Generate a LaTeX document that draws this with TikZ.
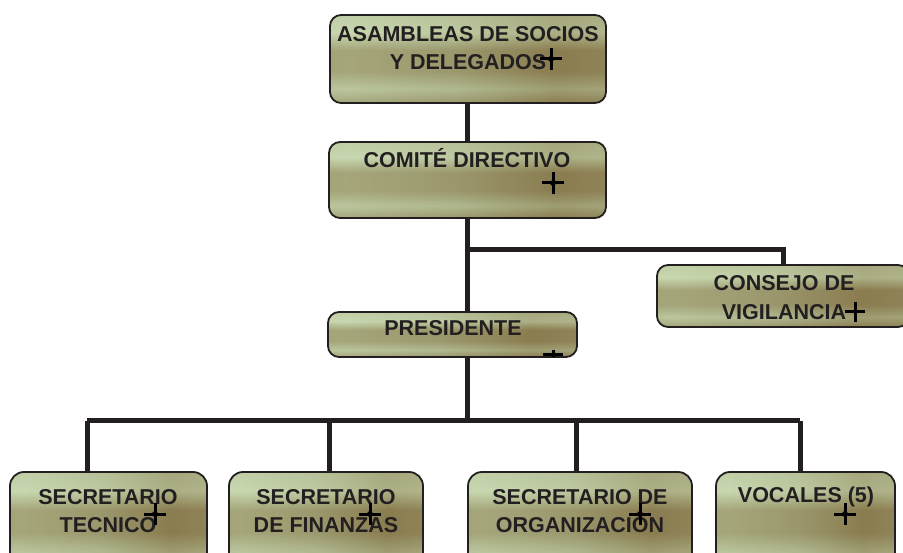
\documentclass[tikz,border=0pt]{standalone}
\usepackage{fontspec}
\setmainfont{Liberation Sans}
\definecolor{ink}{HTML}{231F20}
\definecolor{mA}{HTML}{9C9E78}
\definecolor{mB}{HTML}{B8C8A0}
\definecolor{mC}{HTML}{C8D8B0}
\definecolor{mD}{HTML}{B0B890}
\definecolor{mE}{HTML}{8A7D50}
\definecolor{mF}{HTML}{9A9068}
\definecolor{mG}{HTML}{A8AA88}
\pgfdeclarehorizontalshading{metal}{100bp}{color(0bp)=(mA); color(14bp)=(mB); color(28bp)=(mC); color(48bp)=(mD); color(66bp)=(mE); color(78bp)=(mF); color(92bp)=(mG); color(100bp)=(mA)}
\pgfdeclareverticalshading{bands}{100bp}{color(0bp)=(mA); color(15bp)=(mC); color(25bp)=(mE); color(33bp)=(mD); color(43bp)=(mE); color(55bp)=(mE); color(65bp)=(mC); color(85bp)=(mD); color(100bp)=(mA)}
\tikzset{
  box/.style={draw=ink, line width=1.8pt, rounded corners=11pt, shading=metal, shade,
    path picture={\shade[shading=bands, opacity=0.55] (path picture bounding box.south west) rectangle (path picture bounding box.north east);}},
  lbl/.style={font=\fontsize{21.5}{28.5}\selectfont\bfseries, text=ink, align=center, inner sep=0pt},
  conn/.style={draw=ink, line width=5pt},
  cur/.style={draw=black, line width=3pt}
}
\newcommand{\cursor}[2]{\draw[cur] (#1-11,#2) -- (#1+11,#2); \draw[cur] (#1,#2-11) -- (#1,#2+11); \fill[black] (#1,#2) circle (3pt);}
\begin{document}
\begin{tikzpicture}[x=1pt,y=-1pt]
\useasboundingbox (0,0) rectangle (903,553);
\clip (0,0) rectangle (903,553);
% boxes
\node[box, minimum width=276pt, minimum height=88pt] (asam) at (468,59) {};
\node[box, minimum width=277pt, minimum height=76pt] (comite) at (467.5,180) {};
\node[box, minimum width=249pt, minimum height=45pt] (pres) at (452.5,334.5) {};
\node[box, minimum width=252pt, minimum height=62pt] (cons) at (783,296) {};
\node[box, minimum width=197pt, minimum height=95pt, rounded corners=14pt] (tec) at (108.5,519.5) {};
\node[box, minimum width=194pt, minimum height=95pt, rounded corners=14pt] (fin) at (326,519.5) {};
\node[box, minimum width=224pt, minimum height=95pt, rounded corners=14pt] (org) at (580,519.5) {};
\node[box, minimum width=179pt, minimum height=95pt, rounded corners=14pt] (voc) at (805.5,519.5) {};
% texts
\node[lbl] (tasam) at (468,48) {ASAMBLEAS DE SOCIOS\\Y DELEGADOS};
\node[lbl] (tcom) at (467,158) {COMITÉ DIRECTIVO};
\node[lbl] (tpres) at (453,328) {PRESIDENTE};
\node[lbl] (tcons) at (784,297.5) {CONSEJO DE\\VIGILANCIA};
\node[lbl] (ttec) at (108,511) {SECRETARIO\\TECNICO};
\node[lbl] (tfin) at (326,511) {SECRETARIO\\DE FINANZAS};
\node[lbl] (torg) at (580,511) {SECRETARIO DE\\ORGANIZACION};
\node[lbl] (tvoc) at (806,497) {VOCALES (5)};
% connectors
\coordinate (j1) at (467,250);
\coordinate (j2) at (467,421);
\draw[conn] (asam.south -| 467,0) -- (comite.north -| 467,0);
\draw[conn] (comite.south -| 467,0) -- (pres.north -| 467,0);
\draw[conn] (j1) -| (cons.north);
\draw[conn] (pres.south -| 467,0) -- (j2);
\draw[conn] (87,421) -- (800,421);
\draw[conn] (tec.north -| 87,0) -- (87,421);
\draw[conn] (fin.north -| 329,0) -- (329,421);
\draw[conn] (org.north -| 576,0) -- (576,421);
\draw[conn] (voc.north -| 800,0) -- (800,421);
% cursor marks
\cursor{551}{59}
\cursor{553}{183}
\draw[cur] (543,355) -- (563,355); \draw[cur] (553,350) -- (553,357);
\draw[cur] (845,312) -- (865,312); \draw[cur] (855,302) -- (855,322);
\cursor{155}{514}
\cursor{370}{514}
\cursor{640}{514}
\cursor{845}{514}
\end{tikzpicture}
\end{document}
